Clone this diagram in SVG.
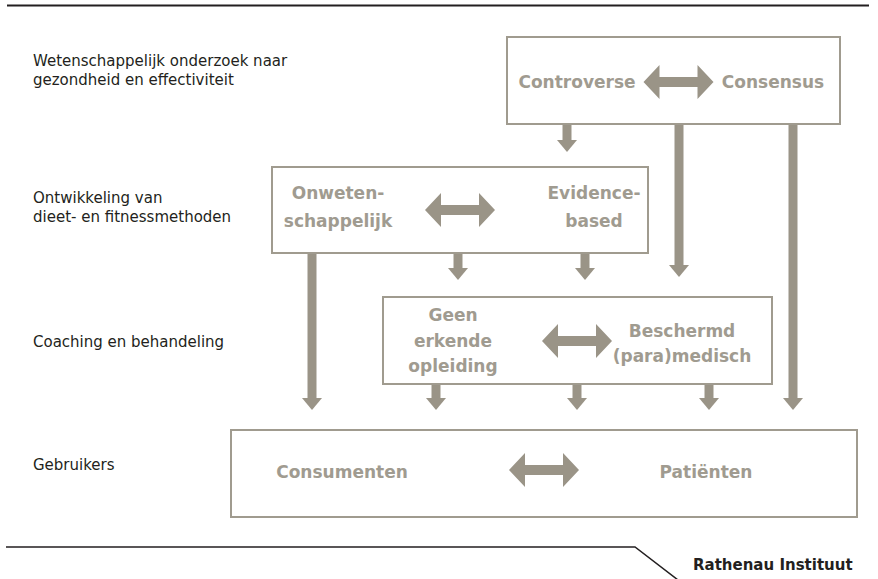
<svg xmlns="http://www.w3.org/2000/svg" width="878" height="579" viewBox="0 0 878 579">
<style>
.box{fill:#fff;stroke:#a09b8f;stroke-width:2}
.lbl{font-family:"DejaVu Sans","Liberation Sans",sans-serif;font-size:15px;fill:#231f20}
.nt{font-family:"DejaVu Sans","Liberation Sans",sans-serif;font-size:17px;font-weight:bold;fill:#a09b90;text-anchor:middle}
.dbl{fill:#9a9487}
.con{stroke:#9a9487;stroke-width:9;fill:none}
.rule{stroke:#231f20;fill:none}
</style>
<defs>
<path id="darr" d="M-35,0 L-19,-17 L-19,-5 L19,-5 L19,-17 L35,0 L19,17 L19,5 L-19,5 L-19,17 Z"/>
<marker id="ah" markerUnits="userSpaceOnUse" markerWidth="12" markerHeight="20" viewBox="0 0 12 20" refX="0" refY="10" orient="auto">
<path d="M0,0 L12,10 L0,20 Z" fill="#9a9487"/>
</marker>
</defs>
<rect width="878" height="579" fill="#fff"/>
<line class="rule" x1="7" y1="5.5" x2="869" y2="5.5" stroke-width="2"/>
<polyline class="rule" points="6,547 635,547 678,580" stroke-width="1.5"/>
<text x="693" y="570" font-family="DejaVu Sans,Liberation Sans,sans-serif" font-size="15" font-weight="bold" fill="#231f20">Rathenau Instituut</text>

<g id="labels">
<text class="lbl" x="33" y="66">Wetenschappelijk onderzoek naar</text>
<text class="lbl" x="33" y="85">gezondheid en effectiviteit</text>
<text class="lbl" x="33" y="203">Ontwikkeling van</text>
<text class="lbl" x="33" y="222">dieet- en fitnessmethoden</text>
<text class="lbl" x="33" y="347">Coaching en behandeling</text>
<text class="lbl" x="33" y="470">Gebruikers</text>
</g>

<g id="connectors">
<line class="con" x1="567" y1="125" x2="567" y2="140" marker-end="url(#ah)"/>
<line class="con" x1="679" y1="125" x2="679" y2="265" marker-end="url(#ah)"/>
<line class="con" x1="793" y1="125" x2="793" y2="398" marker-end="url(#ah)"/>
<line class="con" x1="312" y1="254" x2="312" y2="398" marker-end="url(#ah)"/>
<line class="con" x1="458" y1="254" x2="458" y2="268" marker-end="url(#ah)"/>
<line class="con" x1="585" y1="254" x2="585" y2="268" marker-end="url(#ah)"/>
<line class="con" x1="436" y1="385" x2="436" y2="398" marker-end="url(#ah)"/>
<line class="con" x1="577" y1="385" x2="577" y2="398" marker-end="url(#ah)"/>
<line class="con" x1="709" y1="385" x2="709" y2="398" marker-end="url(#ah)"/>
</g>

<g id="onderzoek">
<rect class="box" x="507" y="37" width="333" height="87"/>
<text class="nt" x="577" y="88">Controverse</text>
<text class="nt" x="773" y="88">Consensus</text>
<use href="#darr" class="dbl" transform="translate(678.5,82)"/>
</g>

<g id="ontwikkeling">
<rect class="box" x="272" y="167" width="376" height="86"/>
<text class="nt" x="338" y="199">Onweten-</text>
<text class="nt" x="338" y="227">schappelijk</text>
<text class="nt" x="594" y="199">Evidence-</text>
<text class="nt" x="594" y="227">based</text>
<use href="#darr" class="dbl" transform="translate(460,210)"/>
</g>

<g id="coaching">
<rect class="box" x="383" y="297" width="389" height="87"/>
<text class="nt" x="453" y="321">Geen</text>
<text class="nt" x="453" y="347">erkende</text>
<text class="nt" x="453" y="372">opleiding</text>
<text class="nt" x="682" y="337">Beschermd</text>
<text class="nt" x="682" y="362">(para)medisch</text>
<use href="#darr" class="dbl" transform="translate(577,341)"/>
</g>

<g id="gebruikers">
<rect class="box" x="231" y="430" width="626" height="87"/>
<text class="nt" x="342" y="478">Consumenten</text>
<text class="nt" x="706" y="478">Patiënten</text>
<use href="#darr" class="dbl" transform="translate(544,470)"/>
</g>
</svg>
